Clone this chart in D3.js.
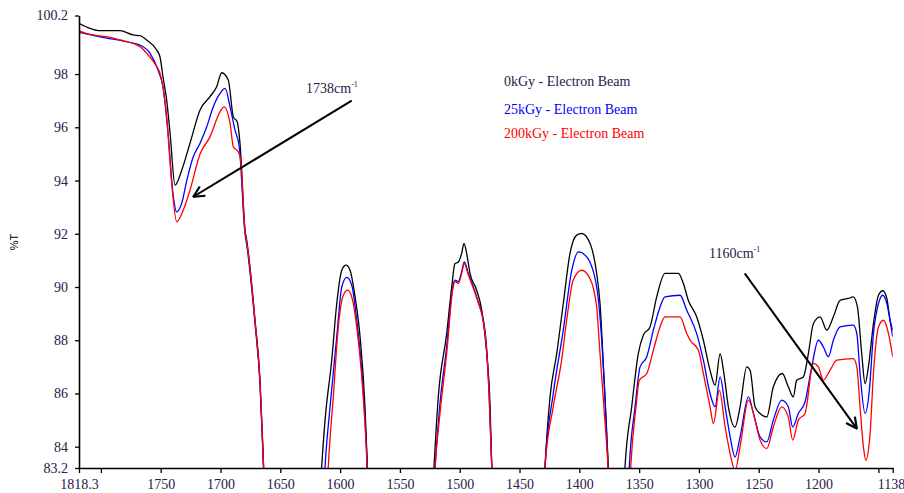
<!DOCTYPE html>
<html>
<head>
<meta charset="utf-8">
<script src="https://cdn.jsdelivr.net/npm/d3@7"></script>
<style>
  body { margin: 0; background: #fff; }
</style>
</head>
<body>
<svg id="chart" width="904" height="493"></svg>
<script>
// spectra, [wavenumber, %T] (values below 83.2 run off the axis)
var kGy0 = [
  [1818.3, 99.91], [1809.1, 99.72], [1800.7, 99.63], [1784.0, 99.63], [1773.1, 99.47], [1767.3, 99.44],
  [1761.7, 99.28], [1753.3, 98.9], [1750.6, 98.65], [1748.1, 97.9], [1745.0, 97.02], [1742.2, 95.8],
  [1738.0, 93.83], [1732.4, 94.39], [1725.5, 95.4], [1717.1, 96.65], [1708.8, 97.15], [1703.2, 97.52],
  [1699.0, 98.05], [1693.5, 97.78], [1689.3, 96.4], [1686.0, 96.2], [1683.7, 95.4], [1679.5, 92.14],
  [1678.1, 91.76], [1671.1, 88.75], [1667.0, 86.5], [1664.2, 83.5], [1661, 80],
  [1619, 80], [1615.4, 83.24], [1612.6, 84.99], [1607.0, 87.25], [1602.8, 89.38], [1598.6, 90.63],
  [1595.1, 90.82], [1591.7, 90.63], [1587.5, 89.63], [1583.3, 88.13], [1579.2, 85.5], [1577.2, 83.24], [1575, 80],
  [1525, 80], [1521.5, 83.24], [1517.9, 85.87], [1510.9, 88.25], [1506.7, 90.0], [1504.0, 90.88],
  [1501.2, 90.94], [1498.4, 91.26], [1496.4, 91.64], [1494.2, 91.26], [1491.4, 90.51], [1485.8, 89.88],
  [1481.6, 89.13], [1477.4, 87.5], [1474.6, 85.5], [1473.2, 83.24], [1471, 80],
  [1432, 80], [1428.7, 83.24], [1424.5, 85.87], [1418.9, 87.5], [1413.4, 89.38], [1407.8, 91.26],
  [1402.2, 91.95], [1398.0, 92.01], [1391.1, 91.64], [1385.5, 90.51], [1382.7, 89.38], [1379.3, 86.5],
  [1375.7, 83.24], [1373, 80],
  [1365, 80], [1361.8, 83.24], [1356.2, 85.5], [1350.7, 87.5], [1346.5, 88.19], [1340.9, 88.5],
  [1335.3, 89.63], [1328.4, 90.51], [1317.2, 90.51], [1313.0, 90.13], [1308.9, 89.5], [1301.9, 88.88],
  [1296.3, 88.0], [1290.7, 86.87], [1286.5, 86.31], [1282.3, 87.5], [1279.5, 86.87], [1275.4, 85.5],
  [1269.8, 84.74], [1265.6, 85.5], [1260.0, 87.0], [1257.2, 86.87], [1253.1, 85.5], [1248.9, 85.25],
  [1243.3, 85.12], [1237.8, 86.25], [1230.3, 86.75], [1225.3, 86.25], [1221.1, 85.87], [1218.3, 86.5],
  [1212.7, 86.62], [1208.5, 87.5], [1204.3, 88.63], [1198.7, 88.88], [1193.1, 88.38], [1187.6, 88.88],
  [1182.0, 89.5], [1175.1, 89.57], [1170.9, 89.63], [1167.5, 89.25], [1163.9, 87.5], [1161.1, 86.37],
  [1158.3, 87.0], [1154.1, 88.63], [1149.9, 89.69], [1146.3, 89.86], [1142.9, 89.57], [1140.2, 88.75],
  [1138.0, 88.38]
];

var kGy25 = [
  [1818.3, 99.57], [1800.7, 99.4], [1773.1, 99.16], [1767.3, 99.09], [1758.9, 98.78], [1752.2, 98.15],
  [1748.1, 97.52], [1743.9, 95.8], [1739.7, 93.5], [1736.6, 92.82], [1732.4, 93.15], [1728.2, 94.0],
  [1722.7, 94.9], [1717.1, 95.4], [1711.5, 96.02], [1706.0, 96.77], [1700.4, 97.27], [1696.2, 97.46],
  [1692.0, 96.77], [1687.9, 95.9], [1684.3, 95.27], [1679.5, 92.0], [1678.1, 91.6], [1671.1, 88.6],
  [1667.0, 86.4], [1664.2, 83.4], [1661, 80],
  [1616, 80], [1612.6, 83.24], [1608.4, 85.5], [1602.8, 88.13], [1598.6, 90.0], [1594.4, 90.36],
  [1590.3, 90.07], [1586.1, 88.75], [1581.9, 86.87], [1577.7, 83.75], [1575, 80],
  [1525, 80], [1520.6, 83.24], [1516.5, 85.62], [1510.9, 87.75], [1505.9, 90.0], [1504.0, 90.26],
  [1501.2, 90.2], [1498.4, 90.57], [1496.2, 90.94], [1492.8, 90.51], [1485.8, 89.63], [1478.9, 88.38],
  [1475.5, 86.1], [1473.2, 83.24], [1471, 80],
  [1432, 80], [1428.7, 83.24], [1421.8, 85.99], [1413.4, 88.38], [1406.3, 90.63], [1400.8, 91.32],
  [1393.8, 91.13], [1385.5, 90.0], [1381.9, 88.4], [1378.5, 85.8], [1376.0, 83.24], [1373, 80],
  [1361, 80], [1358.2, 83.24], [1353.4, 85.5], [1349.2, 87.0], [1343.6, 87.38], [1338.1, 88.38],
  [1332.5, 89.25], [1328.4, 89.63], [1315.8, 89.69], [1310.2, 89.13], [1301.9, 88.25], [1296.3, 87.25],
  [1290.7, 86.0], [1286.5, 85.5], [1282.3, 86.62], [1278.1, 85.5], [1273.9, 84.37], [1269.8, 83.61],
  [1265.6, 84.37], [1258.6, 85.87], [1254.4, 85.25], [1248.9, 84.37], [1243.3, 84.18], [1237.8, 85.0],
  [1230.8, 85.75], [1225.3, 85.5], [1221.6, 84.74], [1216.9, 85.25], [1211.3, 85.68], [1205.7, 87.0],
  [1200.2, 88.0], [1196.0, 87.75], [1191.8, 87.38], [1187.6, 88.0], [1182.0, 88.5], [1170.9, 88.57],
  [1168.0, 88.25], [1165.3, 86.75], [1161.1, 85.25], [1157.5, 86.12], [1154.1, 88.25], [1149.9, 89.38],
  [1146.3, 89.69], [1142.9, 89.38], [1140.2, 88.75], [1138.0, 88.13]
];

var kGy200 = [
  [1818.3, 99.62], [1809.1, 99.49], [1800.7, 99.43], [1792.4, 99.38], [1784.0, 99.28], [1767.3, 99.03],
  [1761.7, 98.78], [1753.3, 98.28], [1750.6, 98.03], [1745.0, 96.4], [1740.8, 93.9], [1736.6, 92.45],
  [1731.1, 92.89], [1725.5, 93.64], [1717.1, 95.0], [1708.8, 95.64], [1700.4, 96.58], [1697.1, 96.77],
  [1692.0, 96.15], [1689.3, 95.27], [1685.1, 95.08], [1683.1, 94.77], [1679.5, 92.1], [1678.1, 91.7],
  [1671.1, 88.7], [1667.0, 86.5], [1664.2, 83.5], [1661, 80],
  [1613, 80], [1609.9, 83.24], [1605.7, 85.87], [1601.5, 88.5], [1597.3, 89.69], [1593.6, 89.88],
  [1590.3, 89.63], [1586.1, 88.5], [1581.9, 86.62], [1577.7, 83.49], [1575, 80],
  [1524, 80], [1520.6, 83.24], [1516.5, 85.25], [1510.9, 87.5], [1505.9, 89.88], [1504.0, 90.2],
  [1501.2, 90.13], [1498.4, 90.5], [1496.2, 90.88], [1492.8, 90.45], [1485.8, 89.58], [1478.9, 88.3],
  [1475.5, 86.0], [1473.2, 83.24], [1471, 80],
  [1432, 80], [1428.7, 83.24], [1421.8, 85.5], [1414.8, 87.25], [1410.6, 88.75], [1405.1, 90.26],
  [1398.1, 90.63], [1391.1, 90.32], [1385.5, 89.25], [1382.7, 87.5], [1379.3, 85.4], [1376.0, 83.24], [1373, 80],
  [1360, 80], [1357.0, 83.24], [1352.6, 85.5], [1349.8, 86.5], [1343.6, 86.75], [1338.1, 87.63],
  [1332.5, 88.5], [1328.4, 88.88], [1315.8, 88.88], [1310.2, 88.25], [1307.4, 88.0], [1300.5, 87.63],
  [1296.3, 86.75], [1290.7, 85.5], [1287.9, 84.87], [1282.9, 86.12], [1278.1, 84.74], [1273.9, 83.74],
  [1269.8, 83.1], [1265.6, 84.0], [1258.6, 85.75], [1253.1, 85.0], [1248.9, 84.25], [1243.3, 83.93],
  [1237.8, 84.74], [1230.8, 85.5], [1225.3, 85.12], [1221.6, 84.25], [1216.9, 85.0], [1211.3, 85.25],
  [1204.3, 87.13], [1200.2, 87.0], [1196.0, 86.5], [1190.4, 86.87], [1184.8, 87.25], [1170.9, 87.31],
  [1168.0, 87.0], [1165.3, 85.5], [1162.5, 84.0], [1160.5, 83.49], [1156.9, 84.5], [1154.1, 86.75],
  [1149.9, 88.5], [1145.7, 88.75], [1141.5, 88.25], [1138.0, 87.38]
];

var seriesNames = ["0kGy - Electron Beam", "25kGy - Electron Beam", "200kGy - Electron Beam"];
var seriesColors = ["#000000", "#0000ff", "#ff0000"];

var xTicks = [1818.3, 1800, 1750, 1700, 1650, 1600, 1550, 1500, 1450, 1400, 1350, 1300, 1250, 1200, 1150, 1138];
var xTickLabels = ["1818.3", "", "1750", "1700", "1650", "1600", "1550", "1500", "1450", "1400", "1350", "1300", "1250", "1200", "", "1138"];
var yTicks = [100.2, 98, 96, 94, 92, 90, 88, 86, 84, 83.2];
var yTickLabels = ["100.2", "98", "96", "94", "92", "90", "88", "86", "84", "83.2"];

// annotations: [label, label x, label y, arrow from x, y, arrow to x, y] in data units
var annotations = [
  ["1738cm", 1628.5, 97.28, 1590.3, 97.0, 1722.7, 93.39],
  ["1160cm", 1291.5, 91.1, 1261.7, 90.51, 1168.0, 84.68]
];

var serif = "'Liberation Serif', 'Times New Roman', serif";
var tickColor = "#26204a";

var margin = {top: 15.5, right: 11.3, bottom: 25, left: 79},
    width = 904 - margin.left - margin.right,
    height = 493 - margin.top - margin.bottom;

var svg = d3.select("#chart");

svg.append("defs").append("clipPath").attr("id", "plotclip")
  .append("rect").attr("width", width).attr("height", height);

var markerDef = svg.select("defs").append("marker")
  .attr("id", "arrowhead")
  .attr("viewBox", "0 0 12 12")
  .attr("refX", 11).attr("refY", 6)
  .attr("markerWidth", 13).attr("markerHeight", 13)
  .attr("markerUnits", "userSpaceOnUse")
  .attr("orient", "auto");
markerDef.append("path")
  .attr("d", "M1,1 L11,6 L1,11")
  .attr("fill", "none")
  .attr("stroke", "#000")
  .attr("stroke-width", 2);

var g = svg.append("g")
  .attr("transform", "translate(" + margin.left + "," + margin.top + ")");

var x = d3.scaleLinear().domain([1818.3, 1138]).range([0, width]);
var y = d3.scaleLinear().domain([83.2, 100.2]).range([height, 0]);

var line = d3.line()
  .x(function(d) { return x(d[0]); })
  .y(function(d) { return y(d[1]); })
  .curve(d3.curveMonotoneX);

var plot = g.append("g").attr("clip-path", "url(#plotclip)");
[kGy0, kGy25, kGy200].forEach(function(s, i) {
  plot.append("path")
    .datum(s)
    .attr("fill", "none")
    .attr("stroke", seriesColors[i])
    .attr("stroke-width", 1.3)
    .attr("d", line);
});

// x axis
var xAxis = g.append("g")
  .attr("transform", "translate(0," + height + ")")
  .call(d3.axisBottom(x).tickValues(xTicks).tickSize(5).tickSizeOuter(0)
    .tickFormat(function(d, i) { return xTickLabels[i]; }));
xAxis.select(".domain").attr("stroke-width", 1.6);
xAxis.selectAll(".tick line").attr("stroke-width", 1.3);
xAxis.selectAll("text")
  .attr("dy", "0.9em")
  .style("font-family", serif)
  .style("font-size", "14px")
  .style("fill", tickColor);
xAxis.selectAll(".tick").filter(function(d) { return d === 1138; })
  .select("text").attr("text-anchor", "end").attr("dx", 12);

// y axis
var yAxis = g.append("g")
  .call(d3.axisLeft(y).tickValues(yTicks).tickSize(4).tickSizeOuter(0)
    .tickFormat(function(d, i) { return yTickLabels[i]; }));
yAxis.select(".domain").attr("stroke-width", 1.6);
yAxis.selectAll(".tick line").attr("stroke-width", 1.3);
yAxis.selectAll("text")
  .attr("x", -11)
  .style("font-family", serif)
  .style("font-size", "14px")
  .style("fill", tickColor);

svg.append("text")
  .attr("transform", "translate(18,242) rotate(-90)")
  .attr("text-anchor", "middle")
  .style("font-size", "11px")
  .style("font-family", "'Liberation Sans', Arial, sans-serif")
  .text("%T");

// arrows + labels
annotations.forEach(function(a) {
  g.append("line")
    .attr("x1", x(a[3])).attr("y1", y(a[4]))
    .attr("x2", x(a[5])).attr("y2", y(a[6]))
    .attr("stroke", "#000")
    .attr("stroke-width", 2)
    .attr("marker-end", "url(#arrowhead)");
  var t = g.append("text")
    .attr("x", x(a[1])).attr("y", y(a[2]))
    .style("font-family", serif)
    .style("font-size", "14px")
    .style("fill", tickColor);
  t.append("tspan").text(a[0]);
  t.append("tspan").attr("dy", "-6").style("font-size", "8px").text("-1");
});

// legend
var legendY = [86, 114, 138];
seriesNames.forEach(function(name, i) {
  svg.append("text")
    .attr("x", 504).attr("y", legendY[i])
    .style("font-family", serif)
    .style("font-size", "14px")
    .style("fill", i === 0 ? tickColor : seriesColors[i])
    .text(name);
});
</script>
</body>
</html>
